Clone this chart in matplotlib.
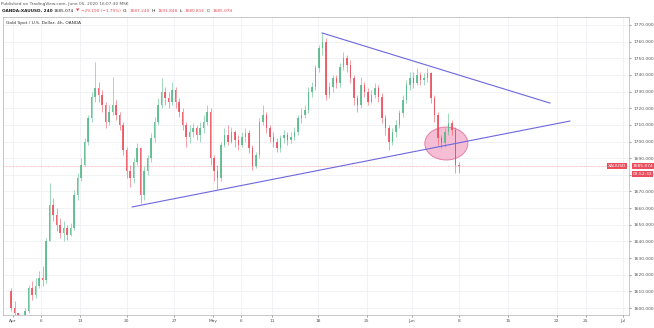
import matplotlib
matplotlib.use("Agg")
import matplotlib.pyplot as plt
from matplotlib.patches import Ellipse, Rectangle

# 12h candles, XAUUSD, Apr 1 - Jun 5 2020
closes = [1600, 1597, 1590, 1592, 1598, 1612, 1608, 1613, 1618, 1617,
          1640, 1662, 1656, 1650, 1645, 1648, 1644, 1648, 1668, 1678,
          1686, 1700, 1714, 1727, 1732, 1728, 1722, 1712, 1718, 1722,
          1716, 1710, 1695, 1682, 1678, 1688, 1696, 1668, 1682, 1690,
          1702, 1712, 1722, 1730, 1726, 1724, 1731, 1724, 1718, 1710,
          1703, 1706, 1708, 1704, 1708, 1712, 1718, 1690, 1682, 1678,
          1698, 1704, 1700, 1706, 1701, 1698, 1703, 1705, 1696, 1685,
          1692, 1712, 1716, 1708, 1703, 1700, 1696, 1702, 1704, 1701,
          1703, 1706, 1714, 1716, 1719, 1730, 1733, 1744, 1756, 1760,
          1728, 1733, 1738, 1735, 1745, 1750, 1746, 1738, 1726, 1722,
          1734, 1730, 1724, 1728, 1732, 1727, 1714, 1708, 1700, 1706,
          1710, 1717, 1725, 1734, 1738, 1735, 1740, 1737, 1738, 1741,
          1726, 1716, 1702, 1699, 1706, 1711, 1707, 1686, 1685.074]
highs = [1612, 1604, 1597, 1596, 1600, 1614, 1616, 1618, 1622, 1625,
         1642, 1675, 1666, 1660, 1654, 1652, 1650, 1651, 1671, 1681,
         1690, 1702, 1716, 1730, 1748, 1736, 1731, 1724, 1722, 1739,
         1725, 1718, 1712, 1697, 1686, 1690, 1699, 1697, 1685, 1692,
         1705, 1715, 1726, 1738, 1733, 1730, 1736, 1733, 1726, 1720,
         1712, 1710, 1711, 1710, 1712, 1716, 1722, 1720, 1692, 1686,
         1700, 1708, 1710, 1709, 1707, 1704, 1706, 1708, 1707, 1698,
         1694, 1714, 1722, 1718, 1710, 1706, 1702, 1704, 1707, 1706,
         1706, 1709, 1716, 1720, 1722, 1733, 1736, 1746, 1758, 1765.2,
         1762, 1736, 1740, 1740, 1747, 1754, 1752, 1749, 1740, 1728,
         1739, 1736, 1732, 1731, 1735, 1734, 1729, 1716, 1710, 1708,
         1713, 1719, 1728, 1737, 1742, 1742, 1744, 1742, 1741, 1744,
         1742, 1728, 1718, 1704, 1708, 1717, 1713, 1709, 1688]
lows = [1598, 1594, 1585, 1586, 1589, 1597, 1605, 1606, 1612, 1613,
        1615, 1640, 1652, 1646, 1642, 1640, 1641, 1643, 1647, 1665,
        1676, 1685, 1698, 1712, 1724, 1724, 1718, 1708, 1710, 1716,
        1713, 1707, 1692, 1678, 1672.7, 1675, 1686, 1663, 1665, 1680,
        1688, 1700, 1710, 1720, 1722, 1720, 1722, 1720, 1715, 1707,
        1697, 1699, 1703, 1701, 1700, 1705, 1710, 1686, 1676, 1671.5,
        1676, 1697, 1698, 1699, 1697, 1695, 1697, 1700, 1693, 1683,
        1684, 1690, 1710, 1705, 1700, 1697, 1693.7, 1694, 1699, 1698,
        1699, 1701, 1704, 1711, 1714, 1717, 1727, 1731, 1742, 1752,
        1725, 1726, 1730, 1732, 1733, 1743, 1742, 1735, 1722, 1717.7,
        1720, 1727, 1722, 1723, 1726, 1724, 1711, 1704, 1694.9, 1698,
        1703, 1708, 1715, 1723, 1731, 1732, 1734, 1734, 1734, 1736,
        1723, 1712, 1698, 1696, 1697, 1704, 1704, 1681, 1680.816]
first_open = 1610

tick_pos = [0.6, 8.6, 19.7, 33.1, 46.6, 57.7, 65.7, 74.6, 87.7, 101.7,
            114.6, 128, 142, 156, 164.2, 174.9]
tick_labels = ["Apr", "6", "13", "20", "27", "May", "6", "11", "18", "25",
               "Jun", "8", "15", "22", "25", "Jul"]
price_ticks = list(range(1600, 1771, 10))

upper_line = ([88.9, 154.0], [1765.2, 1723.1])
lower_line = ([34.6, 159.7], [1660.7, 1712.3])
circle_center = (124.4, 1698.8)
circle_size = (12.3, 19.8)
last_price = 1685.074

up_col = "#53b987"
dn_col = "#eb4d5c"

fig = plt.figure(figsize=(6.54, 3.28), dpi=100)
ax = fig.add_axes([3 / 654, 13 / 328, 626 / 654, 298 / 328])
ax.set_xlim(-2.3, 176.6)
ax.set_ylim(1595.8, 1774.8)

opens = [first_open] + closes[:-1]
for i, (o, h, l, c) in enumerate(zip(opens, highs, lows, closes)):
    col = up_col if c >= o else dn_col
    ax.vlines(i, l, h, color=col, lw=0.45, alpha=0.85, zorder=3)
    ax.add_patch(Rectangle((i - 0.26, min(o, c)), 0.52, max(abs(c - o), 0.4),
                           facecolor=col, edgecolor="none", alpha=0.85, zorder=4))

ax.plot(*upper_line, color="#6d67dd", lw=0.8, zorder=5)
ax.plot(*lower_line, color="#6d67dd", lw=0.8, zorder=5)
ax.add_patch(Ellipse(circle_center, circle_size[0], circle_size[1],
                     facecolor="#f2a9c6", edgecolor="#df5f93", lw=0.7,
                     alpha=0.75, zorder=2))
ax.axhline(last_price, color=dn_col, lw=0.5, ls=(0, (1, 1)), alpha=0.6, zorder=1)

ax.set_xticks(tick_pos)
ax.set_xticklabels(tick_labels)
ax.set_yticks(price_ticks)
ax.set_yticklabels([f"{p:.3f}" for p in price_ticks])
ax.yaxis.tick_right()
ax.tick_params(axis="both", labelsize=3.2, colors="#555555", length=1.5,
               width=0.4, pad=1.5)
ax.grid(True, color="#eef0f4", lw=0.6, zorder=0)
ax.set_axisbelow(True)
for side in ["top", "left", "right", "bottom"]:
    ax.spines[side].set_color("#b0b0b0")
    ax.spines[side].set_linewidth(0.5)

# price tags on the right scale
tag = dict(fontsize=3.2, color="white", va="center", ha="left",
           transform=ax.get_yaxis_transform(), clip_on=False,
           bbox=dict(boxstyle="square,pad=0.25", fc=dn_col, ec="none"))
ax.text(1.006, last_price, f"{last_price:.3f}", **tag)
ax.text(1.006, last_price - 4.8, "03:52:32", **tag)
ax.text(0.995, last_price, "XAUUSD", **{**tag, "ha": "right"})

ax.text(0.004, 0.985, "Gold Spot / U.S. Dollar, 4h, OANDA", transform=ax.transAxes,
        fontsize=3.2, color="#333333", va="top")

fig.text(0.002, 1 - 4 / 328, "Published on TradingView.com, June 05, 2020 16:07:30 MSK",
         fontsize=3.1, color="#555555", va="center")

# symbol line, pieces placed one after another
hy = 1 - 11 / 328
pieces = [("OANDA:XAUUSD, 240", "#222222"), ("1685.074", "#222222"),
          ("\u25bc", dn_col), ("\u221229.190 (\u22121.70%)", dn_col),
          ("O:", "#222222"), ("1687.240", dn_col),
          ("H:", "#222222"), ("1691.848", dn_col),
          ("L:", "#222222"), ("1680.816", dn_col),
          ("C:", "#222222"), ("1685.074", dn_col)]
renderer = fig.canvas.get_renderer()
x = 1.5
for n, (txt, col) in enumerate(pieces):
    t = fig.text(x / 654, hy, txt, fontsize=3.1, color=col, va="center",
                 fontweight="bold" if n == 0 else "normal")
    x += t.get_window_extent(renderer).width + 1.8

fig.savefig("out.png", dpi=100)
